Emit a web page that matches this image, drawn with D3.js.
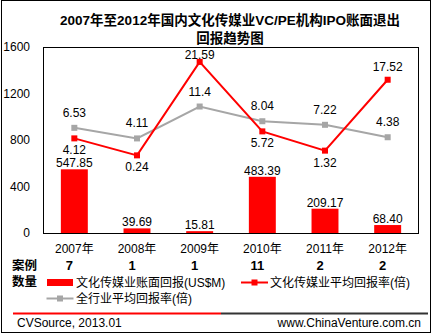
<!DOCTYPE html>
<html><head><meta charset="utf-8">
<script src="https://cdn.jsdelivr.net/npm/d3@7"></script>
<style>
body{margin:0;background:#fff;}
svg{display:block;font-family:"Liberation Sans",Arial,"Noto Sans CJK SC",sans-serif;}
</style></head>
<body><svg id="c" width="434" height="335"></svg>
<script>
const years = ["2007年","2008年","2009年","2010年","2011年","2012年"];
const caseCounts = ["7","1","1","11","2","2"];
const bookReturn = [547.85, 39.69, 15.81, 483.39, 209.17, 68.40];
const bookReturnLabels = ["547.85","39.69","15.81","483.39","209.17","68.40"];
const mediaAvg = [4.12, 0.24, 21.59, 5.72, 1.32, 17.52];
const allAvg = [6.53, 4.11, 11.4, 8.04, 7.22, 4.38];
const yTicks = [0, 400, 800, 1200, 1600];
const titleLines = ["2007年至2012年国内文化传媒业VC/PE机构IPO账面退出","回报趋势图"];
const legendNames = ["文化传媒业账面回报(US$M)","文化传媒业平均回报率(倍)","全行业平均回报率(倍)"];

const svg = d3.select("#c");
const RED = "#ff0000", GRAY = "#a6a6a6";
const L = 43, R = 419, T = 47, B = 233;

// outer frame
svg.append("rect").attr("x",1.5).attr("y",0.5).attr("width",429).attr("height",332)
  .attr("fill","#fff").attr("stroke","#000");

// title
svg.selectAll("text.title").data(titleLines).join("text").attr("class","title")
  .attr("x",230).attr("y",(d,i)=>25+i*18).attr("text-anchor","middle")
  .attr("font-size","13.5px").attr("font-weight","bold").text(d=>d);

const x = d3.scaleBand().domain(years).range([L,R]).paddingInner(0.57).paddingOuter(0.285);
const xc = d => x(d) + x.bandwidth()/2;
const y = d3.scaleLinear().domain([0,1600]).range([B,T]);
const y2 = d3.scaleLinear().domain([-17.5,25]).range([B,T]);

// y axis labels
const yAxis = d3.axisLeft(y).tickValues(yTicks).tickFormat(d3.format("d")).tickSize(0).tickPadding(13);
const ga = svg.append("g").attr("transform",`translate(${L},0)`).call(yAxis);
ga.select(".domain").remove();
ga.selectAll("text").attr("font-size","12px").attr("font-family",null).attr("fill","#000");

// plot border
svg.append("rect").attr("x",L+0.5).attr("y",T+0.5).attr("width",R-L-1).attr("height",B-T)
  .attr("fill","none").attr("stroke","#000");

// bars
svg.selectAll("rect.bar").data(bookReturn).join("rect").attr("class","bar")
  .attr("x",(d,i)=>x(years[i])).attr("width",x.bandwidth())
  .attr("y",d=>y(d)).attr("height",d=>B-y(d)).attr("fill",RED);
svg.selectAll("text.barlbl").data(bookReturnLabels).join("text").attr("class","barlbl")
  .attr("x",(d,i)=>xc(years[i])).attr("y",(d,i)=>y(bookReturn[i])-2)
  .attr("text-anchor","middle").attr("font-size","12px").text(d=>d);

// lines
const line = d3.line().x((d,i)=>xc(years[i])).y(d=>y2(d));
function series(vals,color){
  svg.append("path").datum(vals).attr("d",line).attr("fill","none")
    .attr("stroke",color).attr("stroke-width",2);
  svg.selectAll(null).data(vals).join("rect")
    .attr("x",(d,i)=>xc(years[i])-3).attr("y",d=>y2(d)-3)
    .attr("width",6).attr("height",6).attr("fill",color);
}
series(allAvg,GRAY);
series(mediaAvg,RED);

// line labels: gray always above; red on the side away from gray
svg.selectAll(null).data(allAvg).join("text")
  .attr("x",(d,i)=>xc(years[i])).attr("y",d=>Math.max(y2(d)-15,T+8)+4)
  .attr("text-anchor","middle").attr("font-size","12px").text(d=>d);
svg.selectAll(null).data(mediaAvg).join("text")
  .attr("x",(d,i)=>xc(years[i]))
  .attr("y",(d,i)=>{
    const above = d > allAvg[i];
    const c = above ? Math.max(y2(d)-13,T+8) : y2(d)+12;
    return c+4;
  })
  .attr("text-anchor","middle").attr("font-size","12px").text(d=>d);

// x labels
svg.selectAll("text.xl").data(years).join("text").attr("class","xl")
  .attr("x",d=>xc(d)).attr("y",253).attr("text-anchor","middle")
  .attr("font-size","12px").text(d=>d);

// case counts
svg.append("text").attr("x",12).attr("y",270).attr("font-size","12.5px").attr("font-weight","bold").text("案例");
svg.append("text").attr("x",12).attr("y",286).attr("font-size","12.5px").attr("font-weight","bold").text("数量");
svg.selectAll("text.cnt").data(caseCounts).join("text").attr("class","cnt")
  .attr("x",(d,i)=>xc(years[i])-5).attr("y",270).attr("text-anchor","middle")
  .attr("font-size","13px").attr("font-weight","bold").text(d=>d);

// legend
svg.append("rect").attr("x",47).attr("y",279).attr("width",26).attr("height",7).attr("fill",RED);
svg.append("text").attr("x",76).attr("y",286.5).attr("font-size","12px").text(legendNames[0]);
function legLine(x0,yy,color){
  svg.append("line").attr("x1",x0).attr("x2",x0+27).attr("y1",yy).attr("y2",yy)
    .attr("stroke",color).attr("stroke-width",2);
  svg.append("rect").attr("x",x0+13.5-3).attr("y",yy-3).attr("width",6).attr("height",6).attr("fill",color);
}
legLine(241,282.5,RED);
svg.append("text").attr("x",270).attr("y",286.5).attr("font-size","12px").text(legendNames[1]);
legLine(46.5,298.5,GRAY);
svg.append("text").attr("x",76).attr("y",302.5).attr("font-size","12px").text(legendNames[2]);

// separator
svg.append("line").attr("x1",13).attr("x2",221).attr("y1",313.5).attr("y2",313.5).attr("stroke",RED).attr("stroke-width",2);
svg.append("line").attr("x1",221).attr("x2",428).attr("y1",313.5).attr("y2",313.5).attr("stroke","#333").attr("stroke-width",2);

// footer
svg.append("text").attr("x",17).attr("y",327).attr("font-size","12px").text("CVSource, 2013.01");
svg.append("text").attr("x",421).attr("y",327).attr("text-anchor","end").attr("font-size","12px").text("www.ChinaVenture.com.cn");
</script></body></html>
